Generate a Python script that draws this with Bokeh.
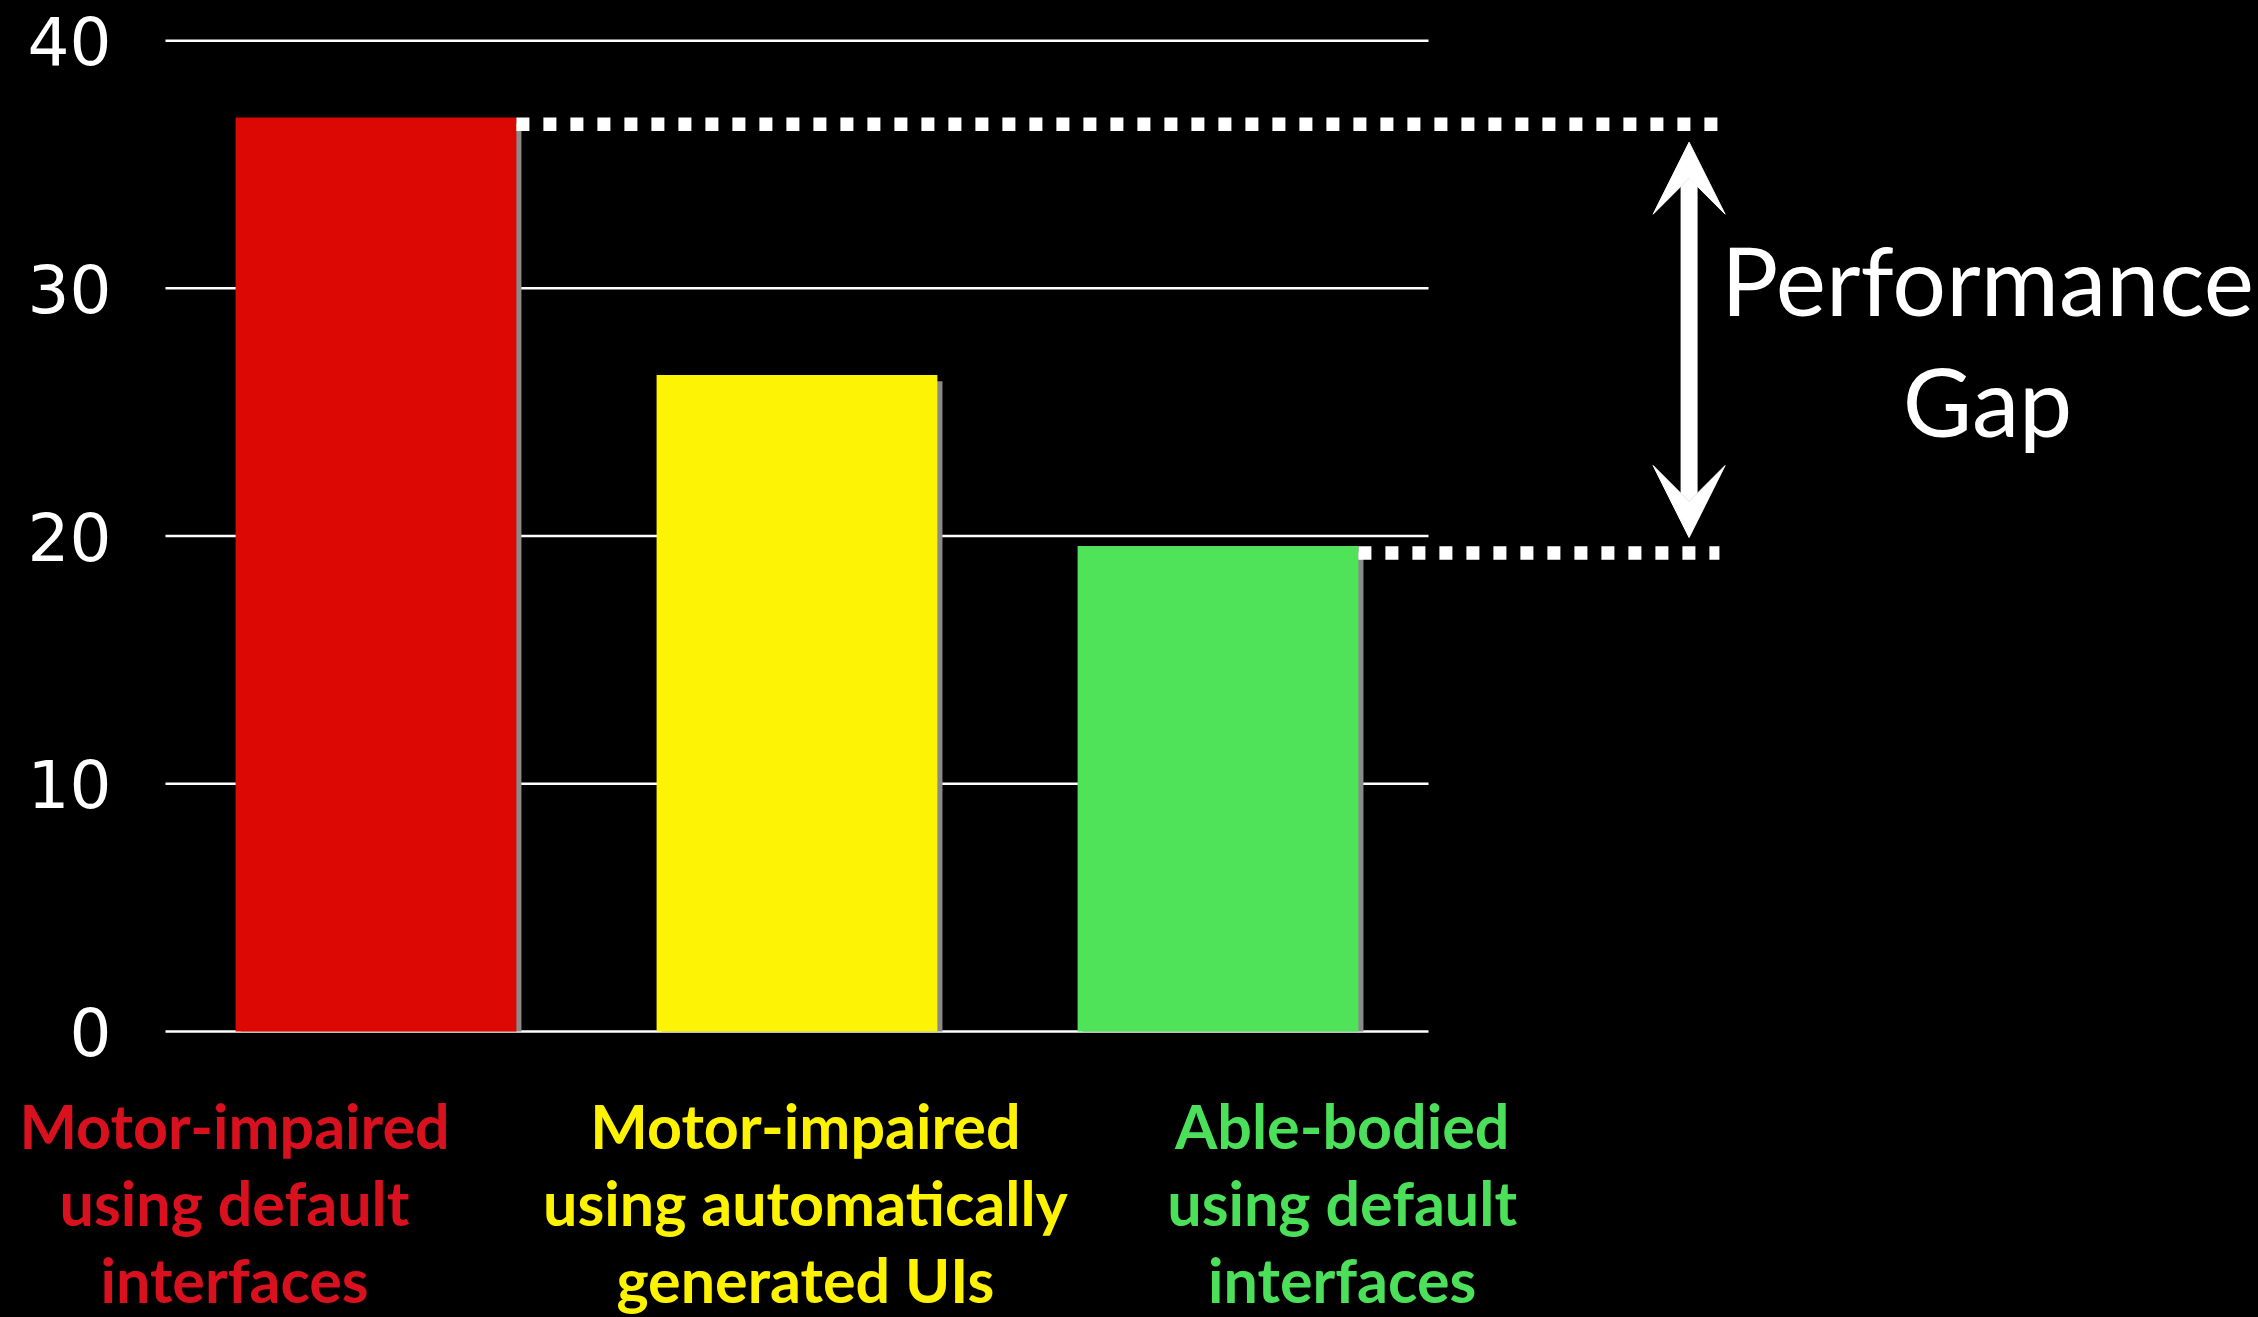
from bokeh.plotting import figure
from bokeh.models import ColumnDataSource, Arrow, VeeHead, FixedTicker, LabelSet
from bokeh.transform import dodge
from bokeh.core.properties import value
from bokeh.embed import file_html
from bokeh.resources import INLINE

# ---- data ----
categories = [
    "Motor-impaired\nusing default\ninterfaces",
    "Motor-impaired\nusing automatically\ngenerated UIs",
    "Able-bodied\nusing default\ninterfaces",
]
values = [36.9, 26.5, 19.6]
bar_colors = ["#db0804", "#fcf305", "#4fe35a"]
label_colors = ["#d9111f", "#fdf300", "#4cdf5a"]
y_ticks = [0, 10, 20, 30, 40]
gap_lines = ["Performance", "Gap"]

# ---- layout (positions, not data) ----
x_pos = list(range(len(categories)))
bar_width = 0.667
label_x = [-0.336, 1.020, 2.295]
label_first_baseline = -4.76
label_line_step = 3.1
gap_x = 3.191
arrow_x = 3.119
gap_text_x = 3.828
gap_text_y = [28.87, 23.98]

p = figure(
    width=2258, height=1317,
    x_range=(-0.8919, 4.4715), y_range=(-11.546, 41.62),
    output_backend="svg", toolbar_location=None,
    background_fill_color="black", border_fill_color="black",
    outline_line_color=None, x_axis_location=None,
    min_border_left=0, min_border_right=0, min_border_top=0, min_border_bottom=0,
)
p.xgrid.visible = False
p.ygrid.visible = False

ax = p.yaxis[0]
ax.ticker = FixedTicker(ticks=y_ticks)
ax.axis_line_color = None
ax.major_tick_line_color = None
ax.minor_tick_line_color = None
ax.major_tick_out = 0
ax.major_tick_in = 0
ax.major_label_standoff = -111
ax.major_label_text_font = "DejaVu Sans"
ax.major_label_text_font_size = "66px"
ax.major_label_text_color = "white"

# horizontal grid lines across the category span
p.segment(x0=[x_pos[0] - 0.5] * len(y_ticks), x1=[x_pos[-1] + 0.5] * len(y_ticks),
          y0=y_ticks, y1=y_ticks, line_color="white", line_width=2.5)

src = ColumnDataSource(dict(x=x_pos, top=values, shadow=[v - 0.25 for v in values],
                            color=bar_colors))
# gray edge shadow on the right of each bar
p.vbar(x=dodge("x", 0.012), width=bar_width, top="shadow", bottom=0, source=src,
       fill_color="#8a8a8a", line_color=None)
p.vbar(x="x", width=bar_width, top="top", bottom=0, source=src,
       fill_color="color", line_color=None)

# dotted reference lines for the gap
half = bar_width / 2
p.segment(x0=[x_pos[0] + half, x_pos[2] + half], x1=[gap_x, gap_x],
          y0=[values[0] - 0.28, values[2] - 0.28], y1=[values[0] - 0.28, values[2] - 0.28],
          line_color="white", line_width=13.5, line_dash="13 14", line_cap="butt")

# double-headed arrow
p.add_layout(Arrow(
    start=VeeHead(size=72, fill_color="white", line_color="white", line_width=1),
    end=VeeHead(size=72, fill_color="white", line_color="white", line_width=1),
    x_start=arrow_x, y_start=values[2] + 0.34,
    x_end=arrow_x, y_end=values[0] - 1.0,
    line_color="white", line_width=17,
))

# "Performance Gap" text
gap_src = ColumnDataSource(dict(x=[gap_text_x] * len(gap_lines), y=gap_text_y, text=gap_lines))
p.add_layout(LabelSet(x="x", y="y", text="text", source=gap_src,
                      text_font=value("Lato"), text_font_size="95px", text_color="white",
                      text_align="center", text_baseline="alphabetic"))

# category labels below the axis
lx, ly, lt, lc = [], [], [], []
for i, cat in enumerate(categories):
    for j, line in enumerate(cat.split("\n")):
        lx.append(label_x[i])
        ly.append(label_first_baseline - j * label_line_step)
        lt.append(line)
        lc.append(label_colors[i])
lab_src = ColumnDataSource(dict(x=lx, y=ly, text=lt, color=lc))
p.add_layout(LabelSet(x="x", y="y", text="text", source=lab_src, text_color="color",
                      text_font=value("Lato"), text_font_style="bold",
                      text_font_size="61px", text_align="center",
                      text_baseline="alphabetic"))

html = file_html(p, INLINE, title="Performance Gap")
html = html.replace("</head>", "<style>html,body{background:#000;overflow:hidden;}</style></head>")
open("out.html", "w").write(html)
